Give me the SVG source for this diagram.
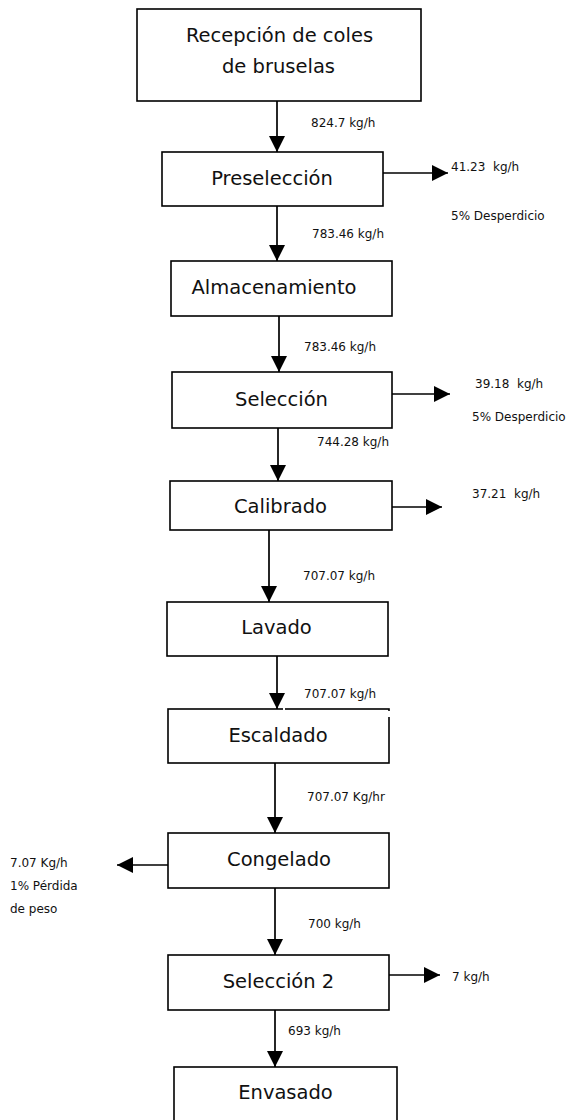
<svg xmlns="http://www.w3.org/2000/svg" width="574" height="1120" viewBox="0 0 574 1120">
  <style>
    .box { fill: #ffffff; stroke: #000000; stroke-width: 1.6; }
    .step { font-family: "DejaVu Sans", "Liberation Sans", sans-serif; font-size: 19.5px; fill: #111111; text-anchor: middle; }
    .flow { font-family: "DejaVu Sans", "Liberation Sans", sans-serif; font-size: 12px; fill: #111111; white-space: pre; }
    .conn { stroke: #000000; stroke-width: 1.7; fill: none; marker-end: url(#head); }
  </style>
  <defs>
    <marker id="head" markerUnits="userSpaceOnUse" markerWidth="16" markerHeight="16" viewBox="0 0 15 15" refX="15" refY="7.5" orient="auto">
      <path d="M0,0 L15,7.5 L0,15 Z" fill="#000000"/>
    </marker>
  </defs>

  <rect width="574" height="1120" fill="#ffffff"/>

  <!-- process steps -->
  <g id="recepcion">
    <rect class="box" x="137" y="9" width="284" height="92"/>
    <text class="step" x="279.5" y="42">Recepción de coles</text>
    <text class="step" x="278.5" y="73">de bruselas</text>
  </g>
  <g id="preseleccion">
    <rect class="box" x="162" y="152" width="221" height="54"/>
    <text class="step" x="272" y="185">Preselección</text>
  </g>
  <g id="almacenamiento">
    <rect class="box" x="171" y="261" width="221" height="55"/>
    <text class="step" x="274" y="294">Almacenamiento</text>
  </g>
  <g id="seleccion">
    <rect class="box" x="172" y="372" width="220" height="56"/>
    <text class="step" x="281.5" y="406">Selección</text>
  </g>
  <g id="calibrado">
    <rect class="box" x="170" y="481" width="222" height="49"/>
    <text class="step" x="280.5" y="513">Calibrado</text>
  </g>
  <g id="lavado">
    <rect class="box" x="167" y="602" width="221" height="54"/>
    <text class="step" x="276.5" y="634">Lavado</text>
  </g>
  <g id="escaldado">
    <rect class="box" x="168" y="709" width="221" height="54"/>
    <!-- small breaks in the outline -->
    <rect x="283" y="707" width="2" height="4" fill="#ffffff"/>
    <rect x="387.5" y="711" width="3" height="6" fill="#ffffff"/>
    <text class="step" x="278" y="742">Escaldado</text>
  </g>
  <g id="congelado">
    <rect class="box" x="168" y="833" width="221" height="55"/>
    <text class="step" x="279" y="866">Congelado</text>
  </g>
  <g id="seleccion2">
    <rect class="box" x="168" y="955" width="221" height="55"/>
    <text class="step" x="278.5" y="988">Selección 2</text>
  </g>
  <g id="envasado">
    <rect class="box" x="174" y="1067" width="223" height="60"/>
    <text class="step" x="285.5" y="1099">Envasado</text>
  </g>

  <!-- connectors -->
  <g id="connectors">
    <line class="conn" x1="277" y1="101" x2="277" y2="152"/>
    <line class="conn" x1="277" y1="206" x2="277" y2="261"/>
    <line class="conn" x1="279" y1="316" x2="279" y2="372"/>
    <line class="conn" x1="278" y1="428" x2="278" y2="481"/>
    <line class="conn" x1="269" y1="530" x2="269" y2="602"/>
    <line class="conn" x1="277" y1="656" x2="277" y2="709"/>
    <line class="conn" x1="275" y1="763" x2="275" y2="833"/>
    <line class="conn" x1="275" y1="888" x2="275" y2="955"/>
    <line class="conn" x1="275" y1="1010" x2="275" y2="1067"/>

    <line class="conn" x1="383" y1="173" x2="448" y2="173"/>
    <line class="conn" x1="392" y1="394" x2="450" y2="394"/>
    <line class="conn" x1="392" y1="507" x2="442" y2="507"/>
    <line class="conn" x1="168" y1="865" x2="117" y2="865"/>
    <line class="conn" x1="389" y1="975" x2="440" y2="975"/>
  </g>

  <!-- flow rates -->
  <g id="flow-labels">
    <text class="flow" x="311" y="127">824.7 kg/h</text>
    <text class="flow" x="451" y="171">41.23  kg/h</text>
    <text class="flow" x="451" y="220">5% Desperdicio</text>
    <text class="flow" x="312" y="238">783.46 kg/h</text>
    <text class="flow" x="304" y="351">783.46 kg/h</text>
    <text class="flow" x="475" y="388">39.18  kg/h</text>
    <text class="flow" x="472" y="421">5% Desperdicio</text>
    <text class="flow" x="317" y="446">744.28 kg/h</text>
    <text class="flow" x="472" y="498">37.21  kg/h</text>
    <text class="flow" x="303" y="580">707.07 kg/h</text>
    <text class="flow" x="304" y="698">707.07 kg/h</text>
    <text class="flow" x="307" y="801">707.07 Kg/hr</text>
    <text class="flow" x="10" y="867">7.07 Kg/h</text>
    <text class="flow" x="10" y="890">1% Pérdida</text>
    <text class="flow" x="10" y="913">de peso</text>
    <text class="flow" x="308" y="928">700 kg/h</text>
    <text class="flow" x="452" y="981">7 kg/h</text>
    <text class="flow" x="288" y="1035">693 kg/h</text>
  </g>
</svg>
